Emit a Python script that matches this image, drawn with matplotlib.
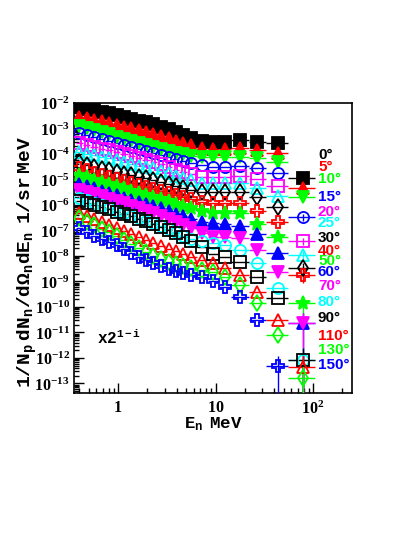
import numpy as np
import matplotlib
matplotlib.use("Agg")
import matplotlib.pyplot as plt
from matplotlib.ticker import FixedLocator, FuncFormatter, LogLocator, NullFormatter

plt.rcParams['mathtext.fontset'] = 'custom'
plt.rcParams['mathtext.rm'] = 'Liberation Serif:bold'
plt.rcParams['mathtext.bf'] = 'Liberation Serif:bold'
plt.rcParams['mathtext.tt'] = 'Liberation Mono:bold'
plt.rcParams['mathtext.it'] = 'Liberation Mono:bold'

# -------------------------------------------
# neutron energy bins (MeV) and bin edges
# -------------------------------------------
energy = [0.40, 0.48, 0.57, 0.68, 0.81, 0.97, 1.15, 1.37, 1.63, 1.95, 2.3, 2.75,
          3.3, 3.9, 4.65, 5.55, 7.3, 9.5, 12.5, 17.8, 26.6, 43.7, 79.0]
edges = [0.37, 0.44, 0.52, 0.62, 0.74, 0.89, 1.06, 1.26, 1.5, 1.78, 2.12, 2.52,
         3.0, 3.6, 4.25, 5.1, 6.4, 8.4, 10.9, 14.5, 22.0, 33.0, 55.0, 105.0]

angles = [0, 5, 10, 15, 20, 25, 30, 40, 50, 60, 70, 80, 90, 110, 130, 150]

# spectra, already scaled by 2^(1-i)
y0 = [7.0e-3, 5.8e-3, 5.3e-3, 4.4e-3, 4.1e-3, 3.4e-3, 2.8e-3, 2.4e-3, 2.0e-3, 1.8e-3, 1.5e-3, 1.15e-3,
      9.6e-4, 7.3e-4, 5.6e-4, 4.2e-4, 3.2e-4, 3.0e-4, 3.0e-4, 3.5e-4, 3.0e-4, 2.7e-4, 1.15e-5]
y5 = [2.8e-3, 2.6e-3, 2.2e-3, 2.0e-3, 1.65e-3, 1.4e-3, 1.15e-3, 1.05e-3, 8.7e-4, 7.3e-4, 6.1e-4, 5.1e-4,
      4.2e-4, 3.2e-4, 2.7e-4, 2.3e-4, 1.7e-4, 1.6e-4, 1.6e-4, 1.7e-4, 1.4e-4, 1.1e-4, 4.6e-6]
y10 = [1.26e-3, 1.05e-3, 8.7e-4, 7.3e-4, 6.1e-4, 4.6e-4, 3.9e-4, 3.2e-4, 2.7e-4, 2.3e-4, 1.9e-4, 1.6e-4,
       1.3e-4, 1.1e-4, 1.0e-4, 8.4e-5, 7.6e-5, 7.6e-5, 7.6e-5, 7.6e-5, 7.0e-5, 4.9e-5, 2.1e-6]
y15 = [6.7e-4, 5.6e-4, 4.6e-4, 3.9e-4, 3.2e-4, 2.7e-4, 2.3e-4, 1.9e-4, 1.6e-4, 1.3e-4, 1.1e-4, 9.1e-5,
       7.6e-5, 6.4e-5, 5.3e-5, 4.4e-5, 3.7e-5, 3.1e-5, 3.1e-5, 3.4e-5, 2.8e-5, 1.8e-5, 3.4e-7]
y20 = [2.7e-4, 2.3e-4, 1.9e-4, 1.6e-4, 1.4e-4, 1.2e-4, 1.0e-4, 8.4e-5, 7.0e-5, 5.8e-5, 4.9e-5, 4.1e-5,
       3.1e-5, 2.4e-5, 2.0e-5, 1.65e-5, 1.26e-5, 1.26e-5, 1.26e-5, 1.4e-5, 1.05e-5, 5.6e-6, 3.9e-8]
y25 = [1.2e-4, 1.0e-4, 9.1e-5, 7.6e-5, 7.0e-5, 5.8e-5, 4.9e-5, 4.1e-5, 3.4e-5, 3.1e-5, 2.8e-5, 2.2e-5,
       1.8e-5, 1.4e-5, 1.15e-5, 9.6e-6, 7.3e-6, 7.3e-6, 7.3e-6, 7.3e-6, 4.6e-6, 2.3e-6, 1.1e-8]
y30 = [4.9e-5, 3.7e-5, 3.1e-5, 2.6e-5, 2.4e-5, 2.0e-5, 1.65e-5, 1.5e-5, 1.26e-5, 1.15e-5, 9.6e-6, 8.0e-6,
       6.7e-6, 5.6e-6, 4.6e-6, 3.9e-6, 3.2e-6, 3.2e-6, 3.2e-6, 3.2e-6, 2.1e-6, 8.4e-7, 3.4e-9]
y40 = [2.8e-5, 2.4e-5, 1.8e-5, 1.5e-5, 1.26e-5, 1.05e-5, 8.7e-6, 7.3e-6, 6.1e-6, 5.1e-6, 4.2e-6, 3.5e-6,
       3.0e-6, 2.5e-6, 2.1e-6, 1.7e-6, 1.3e-6, 1.2e-6, 1.2e-6, 1.2e-6, 5.8e-7, 2.2e-7, 1.8e-9]
y50 = [1.5e-5, 1.26e-5, 9.6e-6, 8.0e-6, 6.7e-6, 5.6e-6, 4.6e-6, 3.5e-6, 3.0e-6, 2.5e-6, 2.1e-6, 1.7e-6,
       1.44e-6, 1.1e-6, 9.1e-7, 7.6e-7, 5.8e-7, 4.9e-7, 4.9e-7, 4.9e-7, 1.8e-7, 5.6e-8, 1.44e-10]
y60 = [6.7e-6, 5.6e-6, 4.6e-6, 3.5e-6, 3.0e-6, 2.5e-6, 1.9e-6, 1.6e-6, 1.3e-6, 1.1e-6, 9.1e-7, 7.6e-7,
       5.8e-7, 4.4e-7, 3.7e-7, 2.8e-7, 2.2e-7, 2.0e-7, 1.8e-7, 1.5e-7, 7.3e-8, 1.3e-8, 2.4e-11]
y70 = [3.9e-6, 3.2e-6, 2.7e-6, 2.3e-6, 1.7e-6, 1.44e-6, 1.2e-6, 9.1e-7, 7.6e-7, 5.8e-7, 4.9e-7, 3.7e-7,
       2.8e-7, 2.2e-7, 1.65e-7, 1.26e-7, 8.0e-8, 5.6e-8, 5.6e-8, 5.1e-8, 1.7e-8, 2.4e-9, 2.4e-11]
y80 = [1.9e-6, 1.6e-6, 1.2e-6, 1.0e-6, 7.6e-7, 5.8e-7, 4.9e-7, 3.7e-7, 3.1e-7, 2.4e-7, 2.0e-7, 1.5e-7,
       1.15e-7, 8.7e-8, 6.1e-8, 4.6e-8, 3.9e-8, 3.2e-8, 2.7e-8, 1.7e-8, 5.3e-9, 5.6e-10, 8.4e-13]
y90 = [1.44e-6, 1.2e-6, 1.0e-6, 8.4e-7, 7.0e-7, 5.3e-7, 4.4e-7, 3.7e-7, 2.8e-7, 2.4e-7, 1.8e-7, 1.4e-7,
       1.05e-7, 8.0e-8, 5.6e-8, 3.9e-8, 2.3e-8, 1.2e-8, 9.1e-9, 5.8e-9, 1.5e-9, 2.3e-10, 8.4e-13]
y110 = [4.9e-7, 3.7e-7, 2.8e-7, 2.2e-7, 1.65e-7, 1.26e-7, 9.6e-8, 7.3e-8, 5.6e-8, 4.2e-8, 3.2e-8, 2.5e-8,
        1.9e-8, 1.6e-8, 1.2e-8, 9.1e-9, 7.0e-9, 5.3e-9, 3.4e-9, 1.8e-9, 3.9e-10, 3.1e-11, 4.4e-13]
y130 = [3.1e-7, 2.2e-7, 1.65e-7, 1.15e-7, 8.7e-8, 6.1e-8, 4.2e-8, 3.0e-8, 2.1e-8, 1.44e-8, 1.0e-8, 7.6e-9,
        5.8e-9, 4.9e-9, 4.1e-9, 3.4e-9, 2.8e-9, 2.4e-9, 1.5e-9, 7.3e-10, 1.44e-10, 8.0e-12, 1.65e-13]
y150 = [1.26e-7, 8.7e-8, 6.1e-8, 4.6e-8, 3.5e-8, 2.7e-8, 1.9e-8, 1.3e-8, 9.1e-9, 7.0e-9, 5.3e-9, 4.1e-9,
        3.1e-9, 2.6e-9, 2.2e-9, 1.8e-9, 1.5e-9, 1.05e-9, 6.1e-10, 2.5e-10, 3.1e-11, 4.9e-13]

# relative error on the last point of each spectrum
last_err = [0.3, 0.3, 0.3, 0.3, 0.3, 0.4, 0.5, 0.5, 0.8, 1.5, 1.5, 2.0, 2.0, 2.0, 2.0, 1.5]

spectra = [y0, y5, y10, y15, y20, y25, y30, y40, y50, y60, y70, y80, y90, y110, y130, y150]

# ROOT-like colours / markers
red, green, blue = "#ff0000", "#00ff00", "#0000ff"
magenta, cyan = "#ff00ff", "#00ffff"
styles = [
    ("s", "black", True), ("^", red, True), ("v", green, True), ("o", blue, False),
    ("s", magenta, False), ("^", cyan, False), ("d", "black", False), ("P", red, False),
    ("*", green, True), ("^", blue, True), ("v", magenta, True), ("o", cyan, False),
    ("s", "black", False), ("^", red, False), ("d", green, False), ("P", blue, False),
]

fig = plt.figure(figsize=(4.14, 5.35), dpi=100)
ax = fig.add_axes([74 / 414, 1 - 393 / 535, 278 / 414, 290 / 535])
ax.set_xscale("log")
ax.set_yscale("log")

E = np.array(energy)
edg = np.array(edges)
for k, y in enumerate(spectra):
    y = np.array(y)
    n = len(y)
    x = E[:n]
    xerr = [x - edg[:n], edg[1:n + 1] - x]
    err_hi = np.zeros(n)
    err_lo = np.zeros(n)
    err_hi[-1] = last_err[k] * y[-1]
    err_lo[-1] = min(last_err[k], 0.9999) * y[-1]
    m, c, filled = styles[k]
    ms = 10 if m == "*" else 8
    ax.errorbar(x, y, xerr=xerr, yerr=[err_lo, err_hi], fmt=m, color=c,
                mec=c, mfc=c if filled else "none", ms=ms, mew=1.3,
                elinewidth=1.0, capsize=0, zorder=3 + k * 0.01)

ax.set_xlim(0.354, 251)
ax.set_ylim(4.24e-14, 1e-2)

# ticks
ax.yaxis.set_major_locator(FixedLocator([10.0 ** p for p in range(-13, -1)]))
ax.yaxis.set_major_formatter(FuncFormatter(lambda v, pos: r"$\mathbf{10^{%d}}$" % round(np.log10(v))))
ax.yaxis.set_minor_locator(LogLocator(base=10, subs=np.arange(2, 10), numticks=30))
ax.yaxis.set_minor_formatter(NullFormatter())
ax.xaxis.set_major_locator(FixedLocator([1, 10, 100]))
ax.xaxis.set_major_formatter(FuncFormatter(lambda v, pos: {1: r"$\mathbf{1}$", 10: r"$\mathbf{10}$", 100: r"$\mathbf{10^{2}}$"}[round(v)]))
ax.xaxis.set_minor_locator(LogLocator(base=10, subs=np.arange(2, 10), numticks=30))
ax.xaxis.set_minor_formatter(NullFormatter())
ax.tick_params(which="both", direction="in", top=False, right=False, width=1.0)
ax.tick_params(which="major", length=7)
ax.tick_params(which="minor", length=3.5)
ax.tick_params(axis="y", which="major", pad=3, labelsize=11.5)
ax.tick_params(axis="x", which="major", pad=5, labelsize=11.5)
for sp in ax.spines.values():
    sp.set_linewidth(1.2)

# axis titles
fig.text(0.066, 1 - 136 / 535, r"$\mathtt{1/N_{p}\ dN_{n}/d\Omega_{n}dE_{n}\ \ 1/sr\ MeV}$",
         rotation=90, ha="center", va="top", fontsize=14)
fig.text(213 / 414, 1 - 428 / 535, r"$\mathtt{E_{n}\ \ MeV}$", ha="center", va="baseline", fontsize=12.5)

ax.text(0.083, 0.19, r"$\mathtt{x2^{1-i}}$", transform=ax.transAxes, fontsize=11.5,
        ha="left", va="center")

# angle labels on the right
label_ypx = [155, 167, 179, 197, 212, 223, 238, 251, 261, 272, 286, 302, 318, 336, 350, 365]
for k, a in enumerate(angles):
    fig.text(318 / 414, 1 - label_ypx[k] / 535, "%d°" % a, color=styles[k][1],
             fontsize=11, fontweight="bold", family="Liberation Sans", ha="left", va="center")

fig.savefig("out.png", dpi=100)
